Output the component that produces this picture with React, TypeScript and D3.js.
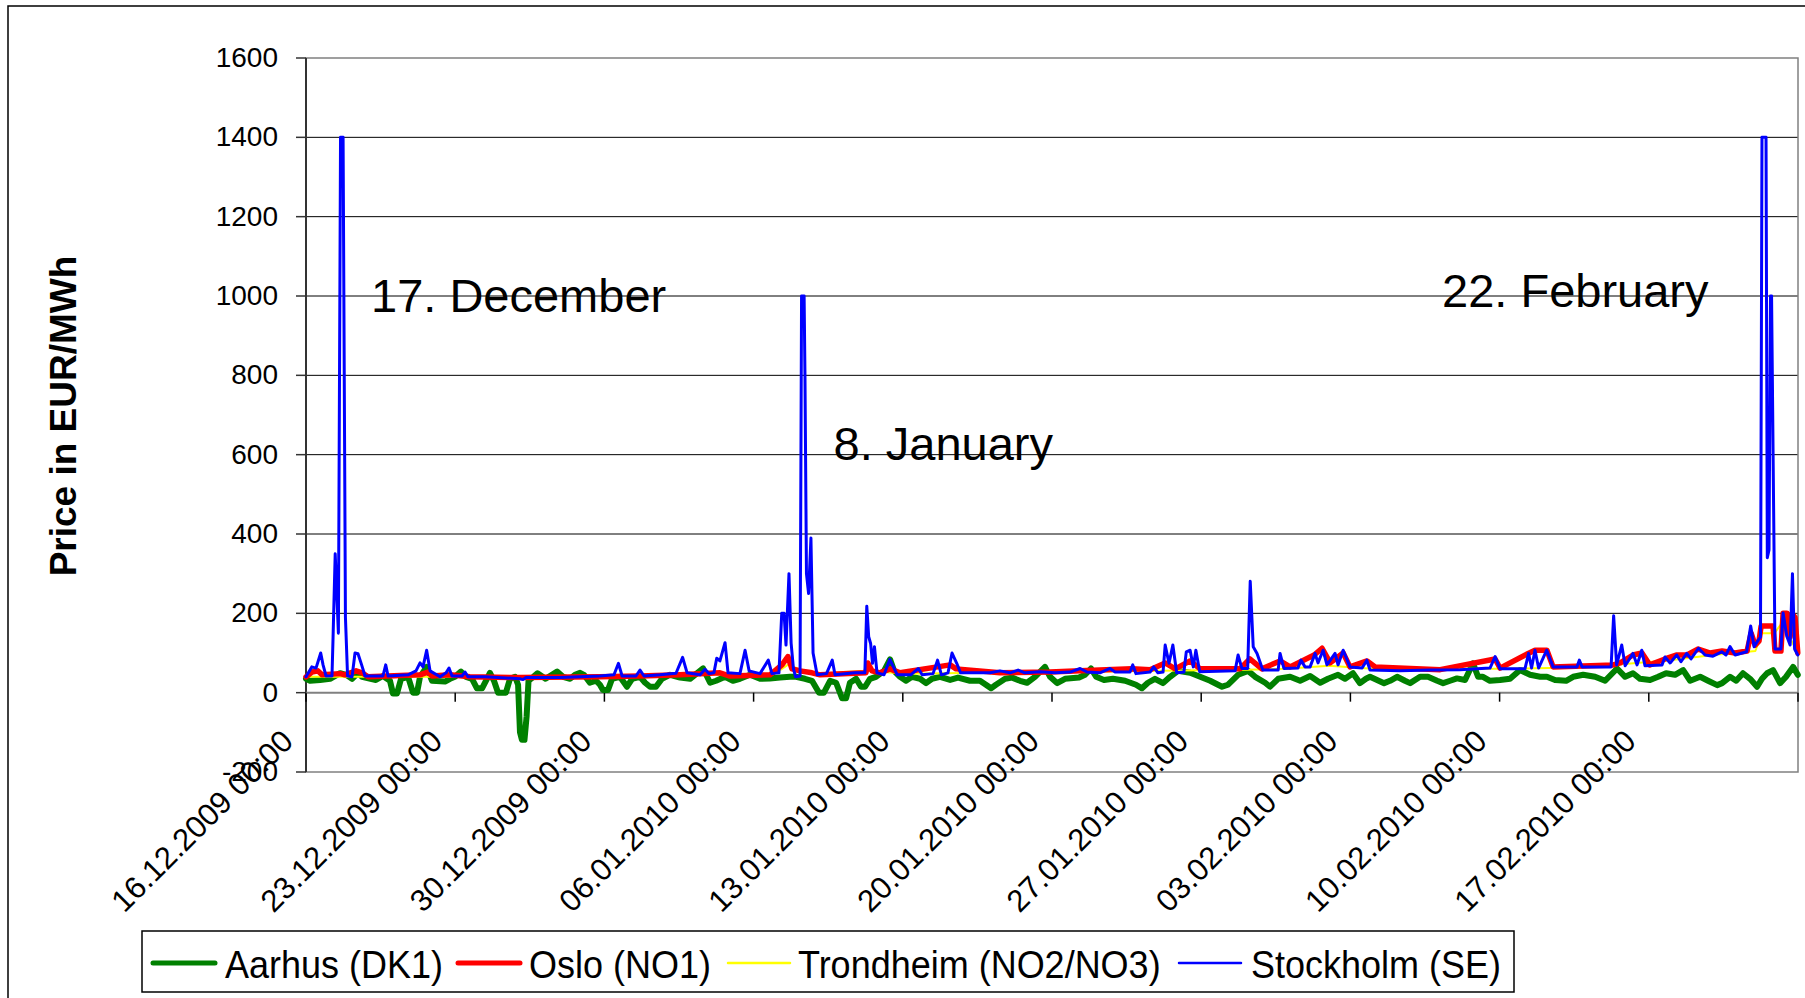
import React from "react";
import * as d3 from "d3";

// day offset from 16.12.2009 00:00, price in EUR/MWh
const aarhus: [number, number][] = [
  [0, 35], [0.19, 30], [0.66, 32], [1.13, 35], [1.6, 49], [1.88, 45], [2.16, 35], [2.44, 50],
  [2.63, 40], [3.28, 32], [3.61, 42], [3.94, 30], [4.08, -2], [4.27, -2], [4.46, 35], [4.79, 40],
  [5.02, 0], [5.21, 0], [5.35, 40], [5.66, 65], [5.91, 30], [6.52, 28], [6.76, 35], [6.99, 40],
  [7.27, 53], [7.51, 40], [7.79, 35], [8.02, 11], [8.26, 11], [8.49, 35], [8.63, 50], [8.82, 30],
  [9.01, 0], [9.38, 0], [9.57, 35], [9.81, 40], [9.95, 20], [10.04, -100], [10.13, -119],
  [10.25, -119], [10.35, -60], [10.44, 30], [10.67, 40], [10.86, 49], [11.24, 35], [11.54, 45],
  [11.78, 53], [12.06, 40], [12.39, 35], [12.62, 45], [12.86, 50], [13.04, 45], [13.32, 25],
  [13.61, 30], [13.79, 20], [13.93, 7], [14.17, 7], [14.36, 35], [14.73, 40], [15.06, 15],
  [15.3, 35], [15.67, 40], [15.91, 25], [16.14, 15], [16.42, 15], [16.7, 35], [17.08, 45],
  [17.55, 38], [18.02, 35], [18.63, 61], [18.96, 25], [19.24, 30], [19.66, 40], [20.03, 30],
  [20.36, 35], [20.83, 45], [21.3, 35], [21.77, 36], [22.24, 38], [22.71, 40], [22.99, 40],
  [23.41, 35], [23.74, 30], [24.07, 0], [24.3, 0], [24.59, 30], [24.87, 25], [25.15, -14],
  [25.34, -14], [25.52, 25], [25.81, 35], [26.04, 15], [26.23, 15], [26.46, 35], [26.74, 40],
  [27.12, 55], [27.4, 84], [27.59, 55], [27.87, 40], [28.15, 30], [28.43, 40], [28.81, 35],
  [29.09, 24], [29.37, 35], [29.75, 40], [30.22, 32], [30.59, 38], [31.15, 30], [31.62, 30],
  [31.9, 20], [32.14, 11], [32.37, 20], [32.8, 35], [33.13, 38], [33.5, 30], [33.83, 25],
  [34.2, 40], [34.67, 65], [34.91, 40], [35.24, 24], [35.61, 35], [36.27, 38], [36.55, 45],
  [36.83, 61], [37.07, 40], [37.44, 32], [37.86, 35], [38.43, 30], [38.94, 20], [39.22, 11],
  [39.5, 25], [39.83, 35], [40.21, 24], [40.54, 40], [40.91, 55], [41.48, 50], [41.95, 40],
  [42.42, 30], [42.79, 20], [42.98, 15], [43.26, 20], [43.73, 45], [44.2, 55], [44.53, 40],
  [45.0, 25], [45.23, 15], [45.61, 35], [46.17, 40], [46.64, 30], [47.11, 42], [47.58, 25],
  [47.95, 35], [48.42, 45], [48.75, 35], [49.12, 49], [49.45, 24], [49.73, 35], [49.92, 40],
  [50.58, 24], [50.86, 30], [51.19, 40], [51.56, 30], [51.8, 24], [52.27, 40], [52.64, 40],
  [53.07, 30], [53.35, 24], [53.68, 30], [54.0, 36], [54.38, 32], [54.75, 74], [54.99, 40],
  [55.22, 40], [55.55, 30], [56.02, 32], [56.49, 35], [56.96, 57], [57.43, 45], [57.9, 40],
  [58.22, 40], [58.6, 32], [59.12, 30], [59.45, 40], [59.92, 45], [60.48, 40], [60.95, 30],
  [61.51, 61], [61.89, 40], [62.26, 49], [62.59, 35], [63.06, 32], [63.44, 40], [63.81, 49],
  [64.23, 45], [64.61, 57], [64.94, 30], [65.41, 40], [65.78, 30], [66.21, 19], [66.44, 24],
  [66.81, 40], [67.1, 30], [67.42, 49], [67.75, 35], [68.08, 15], [68.31, 35], [68.55, 49],
  [68.83, 57], [69.16, 24], [69.44, 40], [69.77, 65], [69.99, 45],
];

const oslo: [number, number][] = [
  [0, 40], [0.28, 52], [0.56, 55], [0.75, 45], [1.6, 48], [1.83, 45], [2.35, 55], [2.63, 50],
  [2.91, 40], [5.35, 45], [5.72, 52], [5.91, 42], [6.76, 45], [7.69, 40], [10.04, 38],
  [13.79, 40], [15.67, 42], [17.55, 45], [19.42, 50], [19.89, 42], [21.77, 45], [22.33, 70],
  [22.61, 91], [22.8, 60], [23.18, 55], [23.74, 50], [24.12, 45], [26.27, 50], [26.36, 75],
  [26.55, 55], [26.93, 50], [27.4, 60], [27.87, 50], [30.22, 70], [30.5, 60], [32.56, 50],
  [34.91, 52], [36.32, 55], [38.75, 60], [39.6, 58], [40.31, 75], [40.78, 60], [41.48, 80],
  [41.95, 60], [43.82, 60], [44.28, 85], [44.85, 60], [45.7, 80], [46.17, 65], [47.3, 95],
  [47.67, 112], [48.05, 75], [48.66, 100], [48.98, 65], [49.78, 80], [50.16, 65], [53.21, 58],
  [55.79, 85], [56.02, 62], [57.34, 99], [57.66, 107], [58.22, 107], [58.51, 65], [61.33, 70],
  [61.66, 75], [62.26, 95], [62.68, 100], [63.05, 70], [63.76, 85], [64.32, 95], [64.79, 95],
  [65.32, 110], [65.88, 100], [66.44, 105], [67.05, 100], [67.61, 105], [67.8, 150],
  [67.99, 120], [68.17, 130], [68.27, 168], [68.83, 168], [68.92, 105], [69.2, 105], [69.3, 200],
  [69.48, 200], [69.63, 140], [69.72, 200], [69.86, 190], [69.99, 100],
];

const trondheim: [number, number][] = [
  [0, 40], [3, 40], [7, 40], [10, 36], [14, 40], [18, 45], [22, 48], [22.6, 70], [23.4, 55],
  [24, 48], [26.3, 55], [28, 48], [32, 50], [36, 52], [40, 55], [44, 58], [46, 60], [48, 68],
  [50, 60], [56, 60], [60, 64], [64, 82], [66, 95], [68, 105], [68.3, 150], [68.9, 150],
  [69.3, 180], [69.5, 150], [70, 100],
];

const stockholm: [number, number][] = [
  [0, 40], [0.27, 65], [0.47, 62], [0.69, 100], [0.8, 70], [0.94, 42], [1.22, 42], [1.27, 140],
  [1.37, 350], [1.52, 150], [1.62, 1400], [1.74, 1400], [1.85, 190], [1.95, 42], [2.16, 40],
  [2.3, 100], [2.44, 98], [2.61, 70], [2.77, 42], [3.61, 42], [3.74, 70], [3.85, 42], [4.79, 45],
  [5.16, 55], [5.35, 75], [5.49, 65], [5.66, 107], [5.82, 55], [6.29, 40], [6.57, 50], [6.71, 62],
  [6.85, 42], [7.32, 42], [7.46, 52], [7.6, 40], [8.4, 40], [10.04, 35], [10.18, 33], [10.32, 38],
  [11.92, 38], [12.86, 40], [13.79, 42], [14.45, 45], [14.66, 74], [14.83, 42], [15.48, 42],
  [15.67, 57], [15.86, 42], [16.61, 45], [17.36, 49], [17.67, 89], [17.88, 50], [18.49, 45],
  [18.72, 59], [18.91, 48], [19.14, 50], [19.27, 87], [19.42, 80], [19.66, 126], [19.8, 50],
  [20.36, 48], [20.6, 107], [20.79, 55], [21.3, 48], [21.69, 82], [21.86, 48], [22.19, 50],
  [22.32, 200], [22.43, 200], [22.52, 120], [22.66, 300], [22.76, 125], [22.87, 60], [22.97, 40],
  [23.18, 42], [23.25, 1000], [23.37, 1000], [23.41, 800], [23.48, 300], [23.58, 250],
  [23.69, 390], [23.79, 100], [23.98, 45], [24.42, 48], [24.69, 82], [24.82, 45], [25.76, 50],
  [26.22, 50], [26.31, 218], [26.4, 141], [26.49, 124], [26.58, 74], [26.67, 116], [26.79, 50],
  [27.12, 45], [27.39, 84], [27.56, 65], [27.74, 45], [28.37, 45], [28.73, 61], [28.91, 45],
  [29.42, 48], [29.63, 82], [29.81, 45], [30.12, 50], [30.31, 100], [30.53, 74], [30.71, 50],
  [32.09, 50], [32.56, 55], [33.03, 50], [33.41, 57], [33.73, 50], [34.44, 53], [35.14, 50],
  [35.85, 52], [36.32, 61], [36.64, 52], [37.25, 50], [37.72, 61], [37.96, 52], [38.66, 52],
  [38.79, 70], [38.94, 48], [39.6, 52], [39.77, 65], [39.97, 50], [40.21, 52], [40.31, 120],
  [40.49, 74], [40.67, 120], [40.85, 50], [41.19, 52], [41.3, 103], [41.48, 107], [41.63, 65],
  [41.75, 107], [41.93, 53], [43.59, 55], [43.73, 95], [43.91, 61], [44.18, 61], [44.3, 281],
  [44.44, 116], [44.62, 99], [44.89, 57], [45.61, 57], [45.7, 99], [45.88, 61], [46.54, 62],
  [46.68, 82], [46.87, 65], [47.11, 65], [47.34, 99], [47.48, 75], [47.72, 107], [47.9, 70],
  [48.28, 99], [48.42, 70], [48.66, 107], [48.98, 65], [49.55, 62], [49.77, 82], [49.92, 57],
  [51.33, 55], [52.74, 57], [54.14, 58], [55.55, 62], [55.79, 91], [56.02, 60], [57.19, 60],
  [57.36, 99], [57.5, 62], [57.66, 107], [57.83, 62], [58.21, 107], [58.51, 65], [59.63, 65],
  [59.74, 82], [59.87, 65], [61.23, 65], [61.35, 194], [61.49, 70], [61.73, 120], [61.89, 68],
  [62.26, 99], [62.45, 70], [62.67, 107], [62.82, 68], [63.62, 70], [63.76, 90], [64.0, 75],
  [64.31, 95], [64.51, 78], [64.78, 99], [64.98, 85], [65.33, 112], [65.64, 95], [66.01, 92],
  [66.42, 103], [66.62, 95], [66.81, 116], [67.05, 95], [67.59, 103], [67.78, 168], [67.94, 116],
  [68.14, 133], [68.24, 140], [68.31, 1400], [68.5, 1400], [68.56, 340], [68.64, 360],
  [68.71, 1000], [68.76, 1000], [68.92, 110], [69.2, 110], [69.3, 201], [69.47, 143],
  [69.63, 120], [69.74, 300], [69.84, 110], [69.99, 95],
];

const seriesNames = ["Aarhus (DK1)", "Oslo (NO1)", "Trondheim (NO2/NO3)", "Stockholm (SE)"];
const seriesColors = ["#008000", "#ff0000", "#ffff00", "#0000ff"];

const yTicks = [-200, 0, 200, 400, 600, 800, 1000, 1200, 1400, 1600];
const xTickDays = [0, 7, 14, 21, 28, 35, 42, 49, 56, 63, 70];
const xTickLabels = [
  "16.12.2009 00:00", "23.12.2009 00:00", "30.12.2009 00:00", "06.01.2010 00:00",
  "13.01.2010 00:00", "20.01.2010 00:00", "27.01.2010 00:00", "03.02.2010 00:00",
  "10.02.2010 00:00", "17.02.2010 00:00",
];

const notes = [
  { text: "17. December", day: 3.05, price: 1000 },
  { text: "8. January", day: 24.75, price: 628 },
  { text: "22. February", day: 53.3, price: 1012 },
];

const FONT = "'Liberation Sans', Arial, sans-serif";

export default function App() {
  const W = 1805;
  const H = 998;
  const left = 306, right = 1798, top = 58, bottom = 772;

  const x = d3.scaleLinear().domain([0, 70]).range([left, right]);
  const y = d3.scaleLinear().domain([-200, 1600]).range([bottom, top]);
  const line = d3
    .line<[number, number]>()
    .x((d) => x(d[0]))
    .y((d) => y(d[1]));

  const y0 = y(0);

  // drawing order: Aarhus, Trondheim (hidden under Oslo), Oslo, Stockholm
  const drawOrder = [0, 2, 1, 3];
  const allSeries = [aarhus, oslo, trondheim, stockholm];
  const strokeWidths = [6, 5.5, 2, 3];

  // legend layout: [line start, text start]
  const legendPos = [
    [153, 225],
    [458, 529],
    [728, 798],
    [1179, 1251],
  ];
  const legendWidths = [5, 5, 2.5, 2.5];

  return (
    <svg
      width={W}
      height={H}
      style={{ position: "absolute", left: 0, top: 0, background: "#fff" }}
      fontFamily={FONT}
    >
      <rect x={8} y={6} width={W} height={H + 10} fill="#fff" stroke="#000" strokeWidth={1.5} />

      {/* gridlines */}
      {yTicks
        .filter((t) => t !== 0 && t !== -200 && t !== 1600)
        .map((t) => (
          <line key={t} x1={left} x2={right} y1={y(t)} y2={y(t)} stroke="#000" strokeWidth={1} />
        ))}
      <rect
        x={left}
        y={top}
        width={right - left}
        height={bottom - top}
        fill="none"
        stroke="#808080"
        strokeWidth={1.5}
      />

      {/* y axis */}
      <line x1={left} x2={left} y1={top} y2={bottom} stroke="#333" strokeWidth={2} />
      {yTicks.map((t) => (
        <g key={t}>
          <line x1={left - 10} x2={left} y1={y(t)} y2={y(t)} stroke="#333" strokeWidth={1.5} />
          <text x={278} y={y(t) + 9} textAnchor="end" fontSize={28}>
            {t}
          </text>
        </g>
      ))}

      {/* x axis at zero */}
      <line x1={left} x2={right} y1={y0} y2={y0} stroke="#808080" strokeWidth={2} />
      {xTickDays.map((d) => (
        <line key={d} x1={x(d)} x2={x(d)} y1={y0} y2={y0 + 9} stroke="#000" strokeWidth={1.5} />
      ))}

      {/* series */}
      {drawOrder.map((idx) => (
        <path
          key={idx}
          d={line(allSeries[idx]) || ""}
          fill="none"
          stroke={seriesColors[idx]}
          strokeWidth={strokeWidths[idx]}
          strokeLinejoin="round"
          strokeLinecap="round"
        />
      ))}

      {/* x tick labels */}
      {xTickLabels.map((lab, i) => (
        <text
          key={lab}
          transform={`translate(${x(xTickDays[i]) - 11},${743}) rotate(-45)`}
          textAnchor="end"
          fontSize={31}
        >
          {lab}
        </text>
      ))}

      {/* annotations */}
      {notes.map((n) => (
        <text key={n.text} x={x(n.day)} y={y(n.price) + 16} fontSize={47}>
          {n.text}
        </text>
      ))}

      {/* y title */}
      <text
        transform="translate(76,416) rotate(-90)"
        textAnchor="middle"
        fontSize={37}
        fontWeight="bold"
      >
        Price in EUR/MWh
      </text>

      {/* legend */}
      <rect x={142} y={931} width={1372} height={61} fill="#fff" stroke="#000" strokeWidth={1.5} />
      {seriesNames.map((name, i) => (
        <g key={name}>
          <line
            x1={legendPos[i][0]}
            x2={legendPos[i][0] + 62}
            y1={963}
            y2={963}
            stroke={seriesColors[i]}
            strokeWidth={legendWidths[i]}
            strokeLinecap="round"
          />
          <text
            x={legendPos[i][1]}
            y={978}
            fontSize={36}
            transform={`translate(0,${-978 * 0.1}) scale(1,1.1)`}
          >
            {name}
          </text>
        </g>
      ))}
    </svg>
  );
}
